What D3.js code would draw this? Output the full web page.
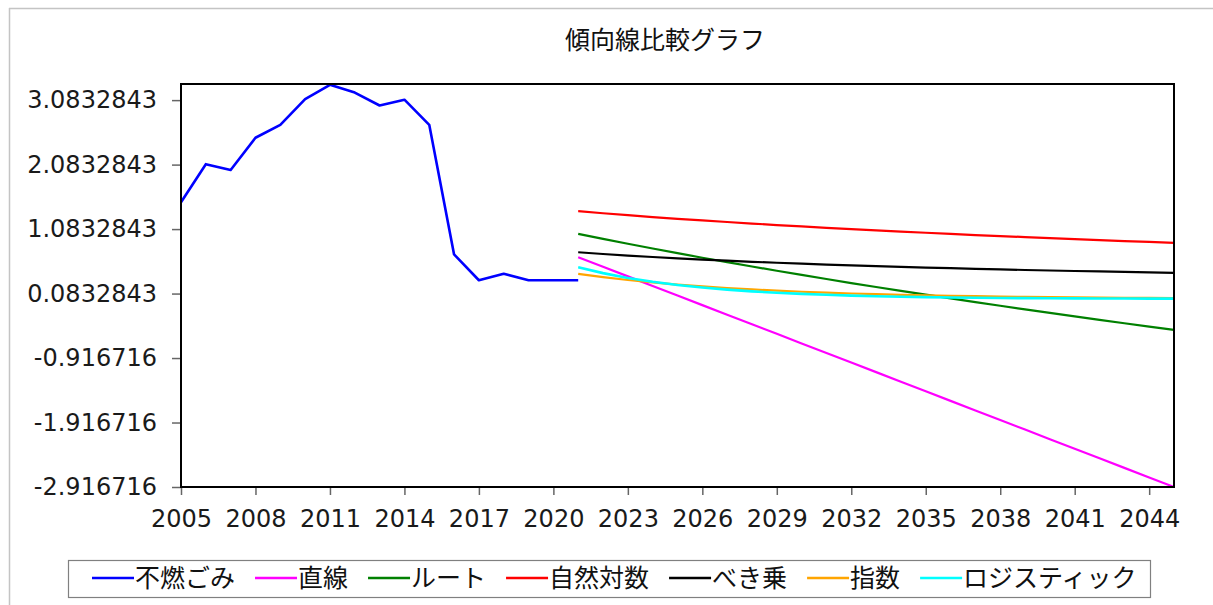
<!DOCTYPE html>
<html><head><meta charset="utf-8">
<script src="https://cdn.jsdelivr.net/npm/d3@7/dist/d3.min.js"></script>
<style>body{margin:0;background:#fff;} svg{display:block}</style>
</head><body><svg id="c" width="1213" height="605"></svg>
<script>
const chartTitle = "傾向線比較グラフ";
const actualYears = [2005,2006,2007,2008,2009,2010,2011,2012,2013,2014,2015,2016,2017,2018,2019,2020,2021];
const actualValues = [1.50,2.09,2.00,2.50,2.70,3.10,3.32,3.20,3.00,3.09,2.70,0.69,0.29,0.39,0.29,0.29,0.29];
const trendYears = [2021,2022,2023,2024,2025,2026,2027,2028,2029,2030,2031,2032,2033,2034,2035,2036,2037,2038,2039,2040,2041,2042,2043,2044,2045];
const linearValues = [0.647,0.499,0.350,0.202,0.053,-0.096,-0.244,-0.393,-0.541,-0.690,-0.838,-0.987,-1.135,-1.284,-1.432,-1.581,-1.729,-1.878,-2.026,-2.175,-2.323,-2.472,-2.620,-2.769,-2.917];
const rootValues = [1.010,0.932,0.856,0.782,0.710,0.639,0.570,0.503,0.437,0.372,0.309,0.246,0.185,0.125,0.066,0.008,-0.050,-0.106,-0.162,-0.217,-0.271,-0.324,-0.377,-0.429,-0.480];
const logValues = [1.361,1.329,1.299,1.270,1.243,1.217,1.193,1.169,1.146,1.124,1.103,1.083,1.064,1.045,1.026,1.008,0.991,0.975,0.959,0.943,0.928,0.913,0.898,0.884,0.870];
const powerValues = [0.724,0.697,0.673,0.650,0.629,0.611,0.593,0.576,0.561,0.547,0.533,0.521,0.509,0.498,0.487,0.477,0.467,0.458,0.449,0.441,0.433,0.426,0.419,0.412,0.405];
const expValues = [0.389,0.338,0.294,0.256,0.223,0.194,0.169,0.147,0.128,0.111,0.097,0.084,0.073,0.064,0.055,0.048,0.042,0.037,0.032,0.028,0.024,0.021,0.018,0.016,0.014];
const logisticValues = [0.491,0.400,0.326,0.266,0.217,0.177,0.144,0.117,0.096,0.078,0.064,0.052,0.042,0.034,0.028,0.023,0.019,0.015,0.012,0.010,0.008,0.007,0.006,0.005,0.004];
const seriesNames = ["不燃ごみ","直線","ルート","自然対数","べき乗","指数","ロジスティック"];
const yTickValues = [3.0832843,2.0832843,1.0832843,0.0832843,-0.916716,-1.916716,-2.916716];
const yTickLabels = ["3.0832843","2.0832843","1.0832843","0.0832843","-0.916716","-1.916716","-2.916716"];
const xTickValues = [2005,2008,2011,2014,2017,2020,2023,2026,2029,2032,2035,2038,2041,2044];
const yDomain = [-2.916716, 3.3332843];
const xDomain = [2005, 2045];

// styles
const seriesColors = ["#0000ff","#ff00ff","#008000","#ff0000","#000000","#ffa500","#00ffff"];
const seriesWidths = [2.6,2.2,2.2,2.2,2.2,2.2,2.6];

const svg = d3.select("#c");
const W = 1213, H = 605;
const m = {left:181, right:1174, top:84, bottom:487};
svg.append("rect").attr("width",W).attr("height",H).attr("fill","#fff");
// outer frame
svg.append("line").attr("x1",9).attr("x2",W).attr("y1",8.5).attr("y2",8.5).attr("stroke","#c4c4c4").attr("stroke-width",1.5);
svg.append("line").attr("x1",9.5).attr("x2",9.5).attr("y1",8).attr("y2",H).attr("stroke","#c4c4c4").attr("stroke-width",1.5);

const x = d3.scaleLinear().domain(xDomain).range([m.left, m.right]);
const y = d3.scaleLinear().domain(yDomain).range([m.bottom, m.top]);

svg.append("text").attr("x",665).attr("y",49).attr("text-anchor","middle")
  .attr("font-family","'Noto Sans CJK JP', sans-serif").attr("font-size",25).attr("fill","#111")
  .text(chartTitle);

const yAxis = svg.append("g").attr("transform",`translate(${m.left},0)`)
  .call(d3.axisLeft(y).tickValues(yTickValues).tickFormat((d,i)=>yTickLabels[i]).tickSize(9).tickPadding(15));
const xAxis = svg.append("g").attr("transform",`translate(0,${m.bottom})`)
  .call(d3.axisBottom(x).tickValues(xTickValues).tickFormat(d3.format("d")).tickSize(8).tickPadding(15));
[yAxis,xAxis].forEach(g=>{
  g.select(".domain").remove();
  g.selectAll(".tick line").attr("stroke","#666").attr("stroke-width",1.5);
  g.selectAll(".tick text").attr("font-family","'DejaVu Sans', Verdana, sans-serif").attr("font-size",24).attr("fill","#1a1a1a");
});

const line = d3.line().x(d=>x(d[0])).y(d=>y(d[1]));
const allSeries = [
  actualYears.map((yr,i)=>[yr,actualValues[i]]),
  trendYears.map((yr,i)=>[yr,linearValues[i]]),
  trendYears.map((yr,i)=>[yr,rootValues[i]]),
  trendYears.map((yr,i)=>[yr,logValues[i]]),
  trendYears.map((yr,i)=>[yr,powerValues[i]]),
  trendYears.map((yr,i)=>[yr,expValues[i]]),
  trendYears.map((yr,i)=>[yr,logisticValues[i]])
];
const drawOrder = [3,2,4,1,5,6,0];
drawOrder.forEach(i=>{
  svg.append("path").datum(allSeries[i]).attr("d",line).attr("fill","none")
    .attr("stroke",seriesColors[i]).attr("stroke-width",seriesWidths[i]).attr("stroke-linejoin","round");
});

// plot frame
svg.append("rect").attr("x",m.left).attr("y",m.top).attr("width",m.right-m.left).attr("height",m.bottom-m.top)
  .attr("fill","none").attr("stroke","#000").attr("stroke-width",2);

// legend
const lg = svg.append("g");
lg.append("rect").attr("x",68.5).attr("y",560.5).attr("width",1082).attr("height",37).attr("fill","#fff").attr("stroke","#808080").attr("stroke-width",1.2);
let cx = 92;
const gap = 20;
seriesNames.forEach((nm,i)=>{
  lg.append("line").attr("x1",cx).attr("x2",cx+42).attr("y1",578).attr("y2",578).attr("stroke",seriesColors[i]).attr("stroke-width",2.5);
  const t = lg.append("text").attr("x",cx+43).attr("y",587).attr("font-family","'Noto Sans CJK JP', sans-serif")
    .attr("font-size",25).attr("fill","#111").text(nm);
  cx += 43 + t.node().getComputedTextLength() + gap;
});
</script></body></html>
